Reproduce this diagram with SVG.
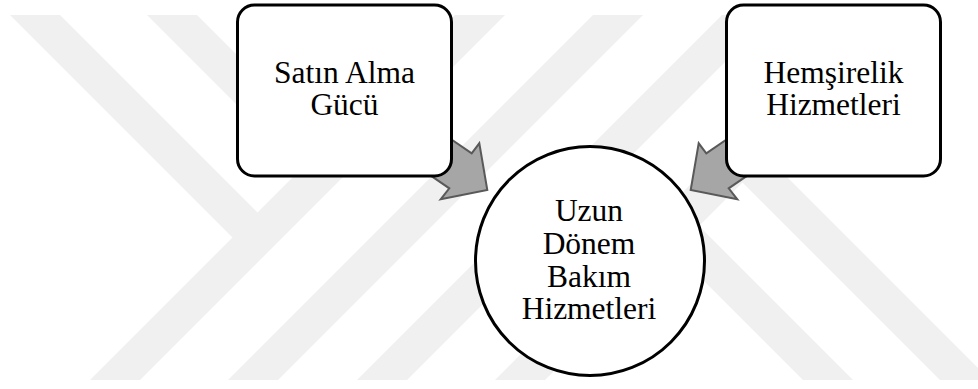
<svg xmlns="http://www.w3.org/2000/svg" width="978" height="389" viewBox="0 0 978 389">
<style>
.wm{fill:#f0f0f0;stroke:none}
.node{fill:#ffffff;stroke:#000000;stroke-width:3}
.arrow{fill:#a6a6a6;stroke:#595959;stroke-width:2;stroke-linejoin:miter}
.lbl{font-family:"Liberation Serif","Times New Roman",serif;font-size:31.5px;fill:#000000;text-anchor:middle}
</style>
<rect x="0" y="0" width="978" height="389" fill="#ffffff"/>
<g id="watermark">
<polygon class="wm" points="10,15 60,15 270,225 245,250"/>
<polygon class="wm" points="455,15 505,15 140,380 90,380"/>
<polygon class="wm" points="147,15 197,15 338.5,156.5 313.5,181.5"/>
<polygon class="wm" points="593,15 643,15 278,380 228,380"/>
<polygon class="wm" points="545,380 495,380 860,15 910,15"/>
<polygon class="wm" points="407,380 357,380 722,15 772,15"/>
<polygon class="wm" points="990,380 940,380 730,170 755,145"/>
<polygon class="wm" points="853,380 803,380 661.5,238.5 686.5,213.5"/>
</g>
<g id="connectors">
<polygon class="arrow" points="430.3,125 471.7,153.3 479.3,143.3 487.3,190 440.7,199.3 449.3,188.3 407.9,160"/>
<polygon class="arrow" points="747.7,125 706.3,153.3 698.7,143.3 690.7,190 737.3,199.3 728.7,188.3 770.1,160"/>
</g>
<g id="node-satin-alma">
<rect class="node" x="237.5" y="5" width="214" height="171" rx="17" ry="17"/>
<text class="lbl" x="344.5" y="83">Satın Alma</text>
<text class="lbl" x="344.5" y="114.7">Gücü</text>
</g>
<g id="node-hemsirelik">
<rect class="node" x="726.5" y="5" width="214" height="171" rx="17" ry="17"/>
<text class="lbl" x="833.5" y="83">Hemşirelik</text>
<text class="lbl" x="833.5" y="114.7">Hizmetleri</text>
</g>
<g id="node-uzun-donem">
<circle class="node" cx="590" cy="261" r="114.5"/>
<text class="lbl" x="589" y="220.7">Uzun</text>
<text class="lbl" x="589" y="253.5">Dönem</text>
<text class="lbl" x="589" y="286.5">Bakım</text>
<text class="lbl" x="589" y="319.3">Hizmetleri</text>
</g>
</svg>
